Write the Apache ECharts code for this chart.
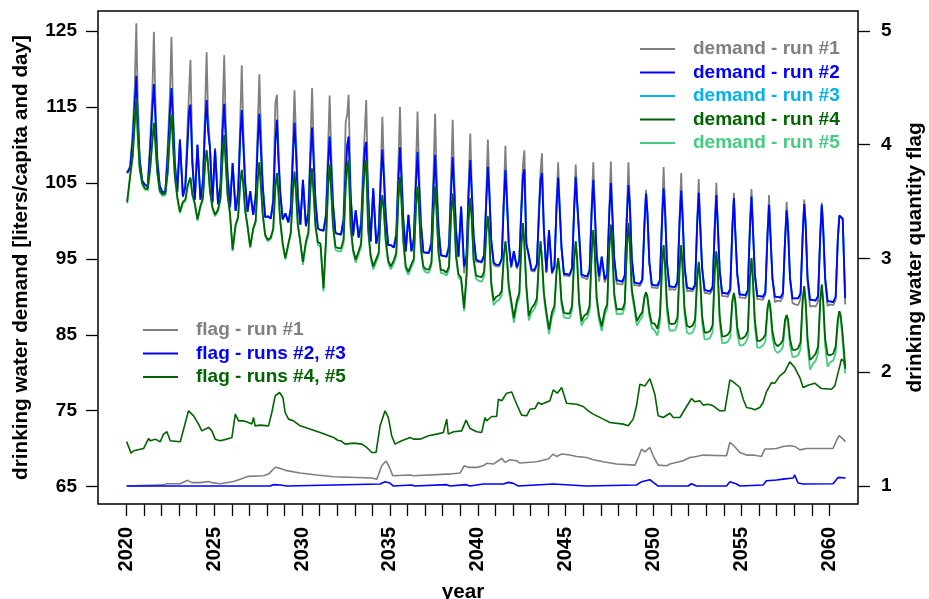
<!DOCTYPE html>
<html>
<head>
<meta charset="utf-8">
<script src="https://cdn.jsdelivr.net/npm/echarts@6.0.0/dist/echarts.min.js"></script>
<style>
  html, body { margin: 0; padding: 0; background: #ffffff; }
  #chart { width: 929px; height: 599px; }
</style>
</head>
<body>
<div id="chart"></div>
<script>
// Drinking water demand per run, one row per year (2020 ... 2060).
// Each row holds the values at the fractions of the year listed in samplePos.
const firstYear = 2020;
const samplePos = [0.05, 0.22, 0.36, 0.48, 0.57, 0.65, 0.76, 0.90];

const demandRun1 = [
  [106.4, 107.2, 111.5, 117.5, 126.0, 116.0, 108.5, 105.3],
  [104.8, 104.5, 110.5, 116.8, 124.9, 116.5, 108.5, 104.6],
  [103.8, 103.8, 110.0, 116.5, 124.2, 115.5, 108.0, 103.8],
  [110.5, 103.2, 105.0, 112.0, 117.0, 121.2, 108.0, 102.8],
  [110.0, 102.8, 105.5, 114.5, 122.2, 114.0, 109.8, 102.4],
  [109.6, 102.2, 105.0, 114.0, 121.8, 113.5, 106.5, 101.8],
  [107.5, 101.3, 104.0, 113.0, 120.5, 112.5, 105.5, 101.2],
  [103.8, 100.8, 103.5, 112.5, 119.3, 112.5, 105.0, 100.5],
  [100.6, 100.3, 103.0, 115.5, 116.6, 110.0, 104.0, 100.2],
  [101.0, 99.8, 102.0, 110.5, 117.2, 111.5, 103.5, 99.5],
  [105.2, 99.3, 101.5, 110.5, 117.5, 110.5, 103.0, 99.0],
  [98.8, 98.7, 101.0, 109.5, 116.5, 109.5, 102.5, 98.4],
  [98.3, 98.2, 100.5, 113.0, 114.0, 116.6, 104.0, 98.0],
  [101.3, 97.8, 100.0, 107.5, 112.0, 115.9, 103.5, 97.3],
  [104.0, 97.0, 99.0, 107.0, 113.7, 107.5, 101.0, 96.8],
  [96.8, 96.5, 98.5, 107.5, 115.0, 107.5, 100.5, 95.9],
  [100.6, 96.0, 98.0, 107.0, 114.4, 107.0, 100.0, 95.8],
  [95.8, 95.8, 97.5, 106.5, 114.1, 106.5, 99.5, 95.4],
  [95.4, 95.3, 97.0, 106.0, 113.3, 106.0, 99.0, 95.2],
  [101.5, 93.1, 95.5, 105.0, 111.5, 105.0, 98.0, 94.6],
  [94.6, 94.5, 95.5, 103.5, 110.7, 105.0, 97.5, 94.2],
  [94.0, 94.0, 95.0, 103.5, 109.9, 104.0, 97.0, 93.8],
  [95.8, 93.7, 94.6, 102.5, 107.5, 109.3, 97.0, 95.2],
  [93.4, 93.3, 94.1, 102.0, 106.5, 108.9, 98.5, 93.1],
  [98.5, 93.0, 93.8, 102.5, 107.7, 102.5, 96.5, 92.8],
  [92.8, 92.7, 93.6, 102.0, 107.4, 103.0, 98.0, 92.6],
  [92.5, 92.3, 93.2, 102.0, 107.7, 102.0, 95.5, 92.0],
  [95.0, 91.9, 92.7, 101.5, 107.8, 101.5, 95.0, 91.7],
  [91.7, 91.6, 92.5, 101.0, 107.7, 102.5, 95.0, 91.5],
  [91.5, 91.4, 92.0, 99.5, 104.1, 101.0, 94.5, 91.2],
  [91.2, 91.1, 91.9, 100.5, 107.1, 102.0, 94.5, 90.9],
  [91.0, 90.9, 91.7, 100.5, 106.3, 101.0, 94.0, 90.7],
  [90.8, 90.7, 91.3, 100.0, 105.5, 100.0, 93.8, 90.5],
  [90.5, 90.4, 91.0, 99.5, 105.0, 100.0, 93.5, 90.1],
  [90.1, 90.0, 90.7, 99.0, 103.7, 98.5, 93.0, 89.9],
  [89.9, 89.8, 90.5, 99.5, 104.2, 99.5, 93.0, 89.7],
  [89.7, 89.6, 90.3, 98.5, 103.4, 98.5, 92.5, 89.3],
  [89.5, 89.4, 90.0, 97.5, 102.5, 99.5, 92.5, 89.2],
  [89.0, 88.9, 89.7, 98.0, 102.8, 100.0, 92.0, 88.7],
  [88.8, 88.7, 89.4, 98.0, 102.4, 99.0, 92.0, 88.8],
  [89.0, 88.9, 89.6, 97.5, 100.6, 100.4, 100.2, 89.0]
];

const demandRun2 = [
  [106.3, 107.0, 110.5, 115.5, 119.1, 113.5, 108.0, 105.3],
  [104.8, 104.5, 109.5, 114.8, 118.0, 114.0, 108.0, 104.6],
  [103.8, 103.8, 108.5, 114.3, 117.5, 113.5, 107.5, 103.8],
  [110.7, 103.2, 104.5, 110.0, 114.5, 115.3, 107.5, 102.8],
  [110.0, 102.8, 105.0, 112.5, 115.9, 112.0, 109.6, 102.4],
  [109.4, 102.2, 104.5, 112.0, 115.4, 111.5, 106.0, 101.8],
  [107.6, 101.3, 103.5, 111.0, 114.6, 110.5, 105.0, 101.2],
  [103.9, 100.8, 103.0, 110.5, 114.1, 110.0, 104.5, 100.5],
  [100.6, 100.3, 102.5, 110.5, 113.3, 108.5, 103.5, 100.2],
  [101.0, 99.8, 101.5, 108.5, 112.9, 109.5, 103.0, 99.5],
  [105.4, 99.3, 101.0, 108.5, 112.3, 108.5, 102.5, 99.0],
  [98.8, 98.7, 100.5, 107.5, 111.1, 107.5, 102.0, 98.4],
  [98.3, 98.2, 100.0, 106.5, 110.0, 111.1, 103.5, 98.0],
  [101.4, 97.8, 99.5, 105.5, 109.5, 110.4, 103.0, 97.3],
  [104.3, 97.0, 98.5, 105.5, 109.4, 106.0, 100.5, 96.8],
  [96.8, 96.5, 98.0, 105.5, 109.7, 106.0, 100.0, 96.0],
  [100.8, 96.0, 97.5, 105.0, 109.1, 105.0, 99.5, 95.9],
  [95.8, 95.8, 97.0, 104.5, 108.7, 104.5, 99.0, 95.5],
  [95.4, 95.3, 96.5, 104.0, 108.4, 104.5, 98.5, 95.3],
  [101.9, 94.0, 95.5, 104.0, 108.0, 104.0, 98.0, 94.9],
  [94.7, 94.6, 95.5, 102.5, 107.1, 104.0, 97.5, 94.5],
  [94.2, 94.2, 95.0, 102.5, 106.7, 103.0, 97.0, 94.0],
  [96.0, 93.9, 94.8, 101.5, 106.0, 106.8, 97.0, 95.5],
  [93.6, 93.5, 94.3, 101.0, 105.5, 106.3, 98.8, 93.3],
  [98.8, 93.2, 94.0, 102.0, 105.7, 102.0, 96.5, 93.0],
  [93.0, 92.9, 93.8, 101.5, 105.8, 102.5, 98.4, 92.9],
  [92.8, 92.7, 93.5, 101.5, 105.4, 101.5, 95.5, 92.7],
  [95.3, 92.3, 93.0, 101.0, 105.0, 101.0, 95.0, 92.2],
  [92.1, 92.0, 92.8, 100.5, 104.7, 102.0, 95.0, 91.9],
  [91.8, 91.7, 92.3, 99.5, 103.6, 101.0, 94.5, 91.6],
  [91.5, 91.5, 92.2, 100.0, 104.3, 101.5, 94.5, 91.4],
  [91.3, 91.3, 92.0, 100.0, 104.0, 100.5, 94.0, 91.2],
  [91.1, 91.0, 91.6, 99.5, 103.7, 99.5, 93.8, 90.9],
  [90.8, 90.7, 91.3, 99.0, 103.4, 99.5, 93.5, 90.5],
  [90.5, 90.4, 91.0, 99.0, 103.0, 98.5, 93.0, 90.3],
  [90.3, 90.2, 90.8, 99.0, 103.2, 99.0, 93.0, 90.1],
  [90.1, 90.0, 90.6, 98.0, 102.1, 98.0, 92.5, 90.0],
  [90.0, 89.9, 90.5, 97.5, 101.4, 99.0, 92.5, 89.8],
  [89.8, 89.8, 90.4, 98.0, 102.2, 99.5, 92.5, 89.6],
  [89.6, 89.5, 90.1, 98.0, 102.1, 99.0, 92.5, 89.4],
  [89.4, 89.3, 90.0, 97.5, 100.7, 100.5, 100.3, 89.8]
];

// run #3 runs on top of run #2 everywhere
const demandRun3 = [
  [106.3, 107.0, 110.5, 115.5, 119.1, 113.5, 108.0, 105.3],
  [104.8, 104.5, 109.5, 114.8, 118.0, 114.0, 108.0, 104.6],
  [103.8, 103.8, 108.5, 114.3, 117.5, 113.5, 107.5, 103.8],
  [110.7, 103.2, 104.5, 110.0, 114.5, 115.3, 107.5, 102.8],
  [110.0, 102.8, 105.0, 112.5, 115.9, 112.0, 109.6, 102.4],
  [109.4, 102.2, 104.5, 112.0, 115.4, 111.5, 106.0, 101.8],
  [107.6, 101.3, 103.5, 111.0, 114.6, 110.5, 105.0, 101.2],
  [103.9, 100.8, 103.0, 110.5, 114.1, 110.0, 104.5, 100.5],
  [100.6, 100.3, 102.5, 110.5, 113.3, 108.5, 103.5, 100.2],
  [101.0, 99.8, 101.5, 108.5, 112.9, 109.5, 103.0, 99.5],
  [105.4, 99.3, 101.0, 108.5, 112.3, 108.5, 102.5, 99.0],
  [98.8, 98.7, 100.5, 107.5, 111.1, 107.5, 102.0, 98.4],
  [98.3, 98.2, 100.0, 106.5, 110.0, 111.1, 103.5, 98.0],
  [101.4, 97.8, 99.5, 105.5, 109.5, 110.4, 103.0, 97.3],
  [104.3, 97.0, 98.5, 105.5, 109.4, 106.0, 100.5, 96.8],
  [96.8, 96.5, 98.0, 105.5, 109.7, 106.0, 100.0, 96.0],
  [100.8, 96.0, 97.5, 105.0, 109.1, 105.0, 99.5, 95.9],
  [95.8, 95.8, 97.0, 104.5, 108.7, 104.5, 99.0, 95.5],
  [95.4, 95.3, 96.5, 104.0, 108.4, 104.5, 98.5, 95.3],
  [101.9, 94.0, 95.5, 104.0, 108.0, 104.0, 98.0, 94.9],
  [94.7, 94.6, 95.5, 102.5, 107.1, 104.0, 97.5, 94.5],
  [94.2, 94.2, 95.0, 102.5, 106.7, 103.0, 97.0, 94.0],
  [96.0, 93.9, 94.8, 101.5, 106.0, 106.8, 97.0, 95.5],
  [93.6, 93.5, 94.3, 101.0, 105.5, 106.3, 98.8, 93.3],
  [98.8, 93.2, 94.0, 102.0, 105.7, 102.0, 96.5, 93.0],
  [93.0, 92.9, 93.8, 101.5, 105.8, 102.5, 98.4, 92.9],
  [92.8, 92.7, 93.5, 101.5, 105.4, 101.5, 95.5, 92.7],
  [95.3, 92.3, 93.0, 101.0, 105.0, 101.0, 95.0, 92.2],
  [92.1, 92.0, 92.8, 100.5, 104.7, 102.0, 95.0, 91.9],
  [91.8, 91.7, 92.3, 99.5, 103.6, 101.0, 94.5, 91.6],
  [91.5, 91.5, 92.2, 100.0, 104.3, 101.5, 94.5, 91.4],
  [91.3, 91.3, 92.0, 100.0, 104.0, 100.5, 94.0, 91.2],
  [91.1, 91.0, 91.6, 99.5, 103.7, 99.5, 93.8, 90.9],
  [90.8, 90.7, 91.3, 99.0, 103.4, 99.5, 93.5, 90.5],
  [90.5, 90.4, 91.0, 99.0, 103.0, 98.5, 93.0, 90.3],
  [90.3, 90.2, 90.8, 99.0, 103.2, 99.0, 93.0, 90.1],
  [90.1, 90.0, 90.6, 98.0, 102.1, 98.0, 92.5, 90.0],
  [90.0, 89.9, 90.5, 97.5, 101.4, 99.0, 92.5, 89.8],
  [89.8, 89.8, 90.4, 98.0, 102.2, 99.5, 92.5, 89.6],
  [89.6, 89.5, 90.1, 98.0, 102.1, 99.0, 92.5, 89.4],
  [89.4, 89.3, 90.0, 97.5, 100.7, 100.5, 100.3, 89.8]
];

const demandRun4 = [
  [102.5, 106.0, 108.5, 113.0, 116.1, 111.5, 107.0, 105.0],
  [104.3, 104.2, 107.0, 110.5, 112.9, 110.5, 106.5, 104.0],
  [103.5, 103.6, 106.5, 111.5, 114.0, 110.5, 106.0, 103.2],
  [101.2, 102.5, 102.8, 104.5, 105.2, 105.7, 103.5, 102.3],
  [100.2, 102.0, 103.0, 107.5, 109.3, 107.5, 104.0, 101.8],
  [100.8, 101.5, 103.0, 108.5, 111.3, 108.0, 103.5, 101.0],
  [96.2, 99.5, 100.5, 105.0, 106.7, 105.0, 101.5, 99.3],
  [96.6, 99.0, 100.0, 105.5, 107.7, 105.0, 101.0, 98.2],
  [97.5, 97.8, 99.0, 104.5, 106.3, 104.0, 100.0, 97.0],
  [95.1, 97.0, 98.5, 104.0, 106.5, 104.0, 99.5, 97.3],
  [94.6, 97.3, 98.5, 104.5, 106.9, 104.0, 99.5, 97.2],
  [97.0, 91.1, 97.5, 104.5, 107.4, 104.5, 99.5, 96.6],
  [96.4, 96.4, 97.5, 104.5, 107.0, 108.0, 99.5, 96.3],
  [94.9, 96.0, 97.0, 104.0, 107.0, 108.0, 99.0, 95.5],
  [94.0, 95.0, 95.8, 101.5, 103.4, 101.5, 97.5, 94.8],
  [94.0, 94.8, 95.8, 103.0, 105.8, 103.0, 97.5, 94.0],
  [93.3, 94.3, 95.0, 102.0, 104.5, 102.0, 96.5, 94.0],
  [93.6, 93.6, 94.5, 101.5, 104.5, 101.5, 96.0, 93.5],
  [93.5, 93.2, 94.0, 101.0, 103.6, 101.0, 95.5, 93.0],
  [92.5, 88.5, 93.0, 100.5, 103.0, 100.5, 95.0, 92.8],
  [92.7, 92.6, 93.3, 98.5, 100.6, 98.5, 92.0, 89.5],
  [90.0, 90.2, 90.8, 95.5, 97.3, 95.5, 91.5, 89.5],
  [87.2, 89.5, 90.5, 97.0, 99.7, 97.0, 91.5, 87.5],
  [88.5, 89.0, 89.8, 95.0, 97.3, 95.0, 90.5, 88.0],
  [85.7, 88.0, 88.8, 93.5, 95.1, 93.5, 89.5, 87.9],
  [87.8, 87.8, 88.8, 95.0, 97.3, 95.0, 89.5, 86.8],
  [87.5, 87.8, 88.8, 96.0, 98.8, 96.0, 90.0, 87.5],
  [86.1, 88.2, 89.0, 96.5, 99.5, 96.5, 90.5, 88.3],
  [88.4, 88.3, 89.2, 96.5, 99.7, 97.0, 91.0, 89.0],
  [86.8, 87.5, 88.0, 90.0, 90.6, 90.0, 88.0, 86.5],
  [86.5, 85.8, 87.5, 94.0, 96.8, 94.5, 89.0, 86.5],
  [86.4, 86.5, 87.3, 94.0, 96.8, 94.0, 88.5, 86.2],
  [86.0, 86.2, 87.0, 92.5, 94.6, 92.5, 87.5, 85.3],
  [85.3, 85.5, 86.3, 93.5, 96.0, 93.5, 87.5, 84.8],
  [84.8, 85.0, 85.5, 89.5, 90.5, 89.5, 86.0, 84.5],
  [84.5, 84.8, 85.5, 92.5, 95.1, 92.5, 87.0, 84.2],
  [84.2, 84.5, 85.0, 88.5, 89.6, 88.5, 85.5, 83.9],
  [83.5, 83.8, 84.3, 87.0, 87.6, 87.0, 84.5, 83.0],
  [83.0, 83.2, 84.0, 89.5, 91.4, 89.5, 84.5, 81.7],
  [82.0, 82.5, 83.5, 89.5, 91.6, 89.5, 84.5, 82.4],
  [82.3, 82.5, 83.5, 87.0, 88.1, 87.5, 85.0, 80.8]
];

const demandRun5 = [
  [102.3, 105.8, 108.3, 112.9, 116.1, 111.4, 106.8, 104.8],
  [104.1, 104.0, 106.8, 110.4, 112.9, 110.4, 106.3, 103.8],
  [103.3, 103.4, 106.3, 111.4, 114.0, 110.4, 105.8, 103.0],
  [101.0, 102.3, 102.6, 104.4, 105.2, 105.6, 103.3, 102.1],
  [100.0, 101.8, 102.8, 107.4, 109.3, 107.4, 103.8, 101.6],
  [100.6, 101.3, 102.8, 108.4, 111.3, 107.9, 103.3, 100.8],
  [96.0, 99.3, 100.3, 104.9, 106.7, 104.9, 101.3, 99.1],
  [96.4, 98.8, 99.8, 105.4, 107.7, 104.9, 100.8, 98.0],
  [97.3, 97.6, 98.8, 104.4, 106.3, 103.9, 99.8, 96.8],
  [94.9, 96.8, 98.3, 103.9, 106.5, 103.9, 99.3, 97.1],
  [94.2, 96.9, 98.1, 104.3, 106.9, 103.8, 99.1, 96.8],
  [96.6, 90.7, 97.1, 104.3, 107.4, 104.3, 99.1, 96.2],
  [96.0, 96.0, 97.1, 104.3, 107.0, 108.0, 99.1, 95.9],
  [94.5, 95.6, 96.6, 103.8, 107.0, 108.0, 98.6, 95.1],
  [93.6, 94.6, 95.4, 101.3, 103.4, 101.3, 97.1, 94.4],
  [93.6, 94.4, 95.4, 102.8, 105.8, 102.8, 97.1, 93.6],
  [92.9, 93.9, 94.6, 101.8, 104.5, 101.8, 96.1, 93.6],
  [93.2, 93.2, 94.1, 101.3, 104.5, 101.3, 95.6, 93.1],
  [93.1, 92.8, 93.6, 100.8, 103.6, 100.8, 95.1, 92.6],
  [92.1, 88.1, 92.6, 100.3, 103.0, 100.3, 94.6, 92.4],
  [92.1, 92.0, 92.7, 98.2, 100.6, 98.2, 91.4, 88.9],
  [89.4, 89.6, 90.2, 95.2, 97.3, 95.2, 90.9, 88.9],
  [86.6, 88.9, 89.9, 96.7, 99.7, 96.7, 90.9, 86.9],
  [87.9, 88.4, 89.2, 94.7, 97.3, 94.7, 89.9, 87.4],
  [85.1, 87.4, 88.2, 93.2, 95.1, 93.2, 88.9, 87.3],
  [87.2, 87.2, 88.2, 94.7, 97.3, 94.7, 88.9, 86.2],
  [86.9, 87.2, 88.2, 95.7, 98.8, 95.7, 89.4, 86.9],
  [85.5, 87.6, 88.4, 96.2, 99.5, 96.2, 89.9, 87.7],
  [87.8, 87.7, 88.6, 96.2, 99.7, 96.7, 90.4, 88.4],
  [86.2, 86.9, 87.4, 89.7, 90.6, 89.7, 87.4, 85.9],
  [85.6, 84.9, 86.6, 93.5, 96.8, 94.0, 88.1, 85.6],
  [85.5, 85.6, 86.4, 93.5, 96.8, 93.5, 87.6, 85.3],
  [85.1, 85.3, 86.1, 92.0, 94.6, 92.0, 86.6, 84.4],
  [84.4, 84.6, 85.4, 93.0, 96.0, 93.0, 86.6, 83.9],
  [83.9, 84.1, 84.6, 89.0, 90.5, 89.0, 85.1, 83.6],
  [83.6, 83.9, 84.6, 92.0, 95.1, 92.0, 86.1, 83.3],
  [83.3, 83.6, 84.1, 88.0, 89.6, 88.0, 84.6, 83.0],
  [82.6, 82.9, 83.4, 86.5, 87.6, 86.5, 83.6, 82.1],
  [82.1, 82.3, 83.1, 89.0, 91.4, 89.0, 83.6, 80.4],
  [81.1, 81.6, 82.6, 89.0, 91.6, 89.0, 83.6, 80.8],
  [81.4, 81.6, 82.6, 86.5, 88.1, 87.0, 84.1, 79.9]
];

// Drinking water quantity flag, [year, flag] vertices
const flagRun1 = [
  [2020.02, 1.0], [2022.12, 1.01], [2022.31, 1.02], [2023.07, 1.02], [2023.49, 1.05], [2023.73, 1.03],
  [2024.2, 1.03], [2024.68, 1.04], [2024.87, 1.03], [2025.34, 1.02], [2026.1, 1.04], [2026.48, 1.06],
  [2026.95, 1.085], [2027.81, 1.09], [2028.09, 1.105], [2028.47, 1.165], [2028.76, 1.155], [2029.13, 1.135],
  [2029.89, 1.115], [2030.84, 1.097], [2031.79, 1.082], [2033.97, 1.07], [2034.25, 1.06], [2034.54, 1.18],
  [2034.78, 1.22], [2034.97, 1.165], [2035.16, 1.09], [2036.15, 1.097], [2036.24, 1.105], [2036.34, 1.09],
  [2038.23, 1.105], [2038.32, 1.114], [2038.42, 1.105], [2038.99, 1.114], [2039.22, 1.178], [2039.46, 1.164],
  [2039.94, 1.164], [2040.31, 1.178], [2040.5, 1.2], [2040.88, 1.193], [2041.17, 1.222], [2041.36, 1.243],
  [2041.55, 1.208], [2041.83, 1.231], [2042.21, 1.222], [2042.4, 1.202], [2043.35, 1.213], [2044.01, 1.237],
  [2044.29, 1.281], [2044.48, 1.26], [2044.77, 1.281], [2045.24, 1.272], [2045.62, 1.26], [2046.19, 1.251],
  [2046.57, 1.231], [2047.14, 1.213], [2047.89, 1.193], [2048.94, 1.184], [2049.13, 1.251], [2049.32, 1.325],
  [2049.51, 1.301], [2049.79, 1.339], [2049.98, 1.266], [2050.26, 1.184], [2050.74, 1.178], [2050.93, 1.193],
  [2051.68, 1.222], [2052.06, 1.251], [2052.44, 1.26], [2052.82, 1.272], [2054.15, 1.266], [2054.34, 1.383],
  [2054.53, 1.36], [2054.91, 1.295], [2055.29, 1.272], [2055.66, 1.272], [2056.14, 1.26], [2056.33, 1.325],
  [2056.61, 1.325], [2056.99, 1.33], [2057.37, 1.348], [2057.75, 1.354], [2058.03, 1.348], [2058.32, 1.318],
  [2058.7, 1.33], [2060.21, 1.33], [2060.4, 1.398], [2060.55, 1.442], [2060.78, 1.412], [2060.92, 1.39]
];

const flagRuns23 = [
  [2020.02, 1.0], [2028.18, 1.0], [2028.37, 1.012], [2028.76, 1.009], [2029.13, 1.0], [2034.44, 1.018],
  [2034.72, 1.038], [2035.0, 1.026], [2035.2, 1.0], [2036.24, 1.009], [2036.4, 1.0], [2038.23, 1.012],
  [2038.42, 1.0], [2039.33, 1.012], [2039.56, 1.0], [2040.31, 1.018], [2041.45, 1.018], [2041.74, 1.032],
  [2042.02, 1.023], [2042.3, 1.0], [2044.29, 1.018], [2045.24, 1.009], [2046.19, 1.0], [2049.03, 1.009],
  [2049.32, 1.038], [2049.79, 1.056], [2049.98, 1.032], [2050.26, 1.0], [2051.97, 1.0], [2052.16, 1.02],
  [2052.44, 1.0], [2054.15, 1.0], [2054.34, 1.038], [2054.72, 1.018], [2054.91, 1.0], [2056.23, 1.009],
  [2056.42, 1.047], [2056.99, 1.053], [2057.37, 1.061], [2057.94, 1.07], [2058.03, 1.097], [2058.22, 1.026],
  [2058.51, 1.018], [2060.21, 1.02], [2060.5, 1.076], [2060.92, 1.07]
];

const flagRuns45 = [
  [2020.02, 1.39], [2020.08, 1.374], [2020.27, 1.289], [2020.42, 1.31], [2020.99, 1.33], [2021.27, 1.418],
  [2021.36, 1.398], [2021.65, 1.412], [2021.93, 1.389], [2022.12, 1.456], [2022.31, 1.477], [2022.5, 1.398],
  [2023.07, 1.389], [2023.54, 1.661], [2023.83, 1.617], [2024.11, 1.544], [2024.3, 1.485], [2024.68, 1.515],
  [2024.87, 1.485], [2025.06, 1.412], [2025.34, 1.398], [2025.72, 1.412], [2026.01, 1.427], [2026.2, 1.632],
  [2026.39, 1.573], [2026.67, 1.573], [2026.95, 1.559], [2027.14, 1.544], [2027.24, 1.602], [2027.33, 1.529],
  [2027.62, 1.535], [2028.09, 1.529], [2028.28, 1.646], [2028.47, 1.792], [2028.72, 1.822], [2028.91, 1.778],
  [2029.04, 1.646], [2029.23, 1.588], [2029.51, 1.573], [2029.89, 1.529], [2030.27, 1.509], [2031.03, 1.471],
  [2031.79, 1.427], [2032.05, 1.40], [2032.13, 1.415], [2032.2, 1.398], [2032.45, 1.368], [2032.92, 1.377],
  [2033.4, 1.368], [2033.68, 1.339], [2033.97, 1.295], [2034.21, 1.295], [2034.44, 1.529], [2034.72, 1.661],
  [2034.91, 1.602], [2035.1, 1.442], [2035.29, 1.368], [2035.67, 1.398], [2036.15, 1.427], [2036.34, 1.412],
  [2036.71, 1.412], [2037.19, 1.442], [2037.66, 1.456], [2038.04, 1.471], [2038.23, 1.588], [2038.32, 1.456],
  [2038.61, 1.477], [2039.08, 1.485], [2039.33, 1.579], [2039.56, 1.505], [2039.94, 1.477], [2040.22, 1.471],
  [2040.41, 1.602], [2040.5, 1.573], [2040.79, 1.611], [2041.07, 1.611], [2041.17, 1.763], [2041.36, 1.749],
  [2041.45, 1.734], [2041.64, 1.816], [2041.93, 1.827], [2042.21, 1.719], [2042.49, 1.623], [2042.78, 1.617],
  [2042.97, 1.675], [2043.25, 1.681], [2043.44, 1.734], [2043.63, 1.719], [2044.1, 1.749], [2044.29, 1.845],
  [2044.52, 1.816], [2044.77, 1.866], [2045.05, 1.728], [2045.62, 1.719], [2046.0, 1.699], [2046.28, 1.661],
  [2046.57, 1.632], [2047.14, 1.588], [2047.52, 1.559], [2048.27, 1.544], [2048.56, 1.529], [2048.84, 1.588],
  [2049.03, 1.705], [2049.22, 1.895], [2049.51, 1.88], [2049.79, 1.944], [2050.07, 1.807], [2050.26, 1.617],
  [2050.55, 1.602], [2050.93, 1.64], [2051.12, 1.602], [2051.5, 1.602], [2051.78, 1.675], [2052.16, 1.769],
  [2052.35, 1.74], [2052.63, 1.749], [2052.82, 1.711], [2053.11, 1.719], [2053.39, 1.705], [2053.77, 1.661],
  [2054.05, 1.661], [2054.34, 1.933], [2054.53, 1.915], [2054.91, 1.866], [2055.1, 1.763], [2055.29, 1.69],
  [2055.57, 1.681], [2055.76, 1.67], [2056.04, 1.69], [2056.23, 1.734], [2056.42, 1.827], [2056.71, 1.909],
  [2056.9, 1.904], [2057.18, 1.968], [2057.46, 2.003], [2057.75, 2.091], [2058.03, 2.041], [2058.32, 1.953],
  [2058.51, 1.866], [2058.79, 1.886], [2059.17, 1.904], [2059.55, 1.857], [2060.12, 1.851], [2060.31, 1.88],
  [2060.5, 1.997], [2060.69, 2.114], [2060.82, 2.1], [2060.92, 2.03]
];

// Axis ticks and labels
const yearLabels = [2020, 2025, 2030, 2035, 2040, 2045, 2050, 2055, 2060];
const yearTicks = [];
for (let y = 2020; y <= 2060; y++) yearTicks.push(y);
const demandTicks = [65, 75, 85, 95, 105, 115, 125];
const flagTicks = [1, 2, 3, 4, 5];

const FONT = '"Liberation Sans", Arial, Helvetica, sans-serif';
const COLORS = {
  run1: '#7f7f7f',
  run2: '#0000ff',
  run3: '#00b2ee',
  run4: '#006400',
  run5: '#43cd80'
};

// Turn year rows into [time, value] points
function yearRowsToPoints(rows) {
  const pts = [];
  rows.forEach((row, i) => {
    row.forEach((v, j) => pts.push([firstYear + i + samplePos[j], v]));
  });
  return pts;
}

function lineSeries(name, data, color, yAxisIndex, width) {
  return {
    name: name,
    type: 'line',
    data: data,
    yAxisIndex: yAxisIndex,
    showSymbol: false,
    symbol: 'none',
    silent: true,
    lineStyle: { color: color, width: width },
    itemStyle: { color: color }
  };
}

const labelStyle = { fontFamily: FONT, fontWeight: 'bold', fontSize: 19, color: '#000' };
const titleStyle = { fontFamily: FONT, fontWeight: 'bold', fontSize: 20.7, color: '#000' };
const tickStyle = { color: '#000', width: 1.3 };
const legendText = { fontFamily: FONT, fontWeight: 'bold', fontSize: 19, lineHeight: 20, padding: [0, 0, 0, 13] };

const chart = echarts.init(document.getElementById('chart'), null, { renderer: 'canvas' });

chart.setOption({
  animation: false,
  backgroundColor: '#ffffff',
  grid: {
    left: 98, right: 71, top: 11, bottom: 95,
    outerBoundsMode: 'none',
    containLabel: false,
    show: true, borderColor: '#000', borderWidth: 1.5, backgroundColor: 'transparent'
  },
  xAxis: {
    type: 'value',
    min: 2018.39,
    max: 2061.63,
    name: 'year',
    nameLocation: 'middle',
    nameGap: 78,
    nameTextStyle: Object.assign({ padding: [0, 30, 0, 0] }, titleStyle),
    axisLine: { show: false, onZero: false },
    splitLine: { show: false },
    axisTick: { show: true, customValues: yearTicks, length: 12, lineStyle: tickStyle },
    axisLabel: Object.assign({}, labelStyle, {
      customValues: yearLabels, rotate: 90, margin: 23, fontSize: 20,
      formatter: (v) => String(v)
    })
  },
  yAxis: [
    {
      type: 'value',
      min: 62.72,
      max: 127.63,
      name: 'drinking water demand [liters/capita and day]',
      nameLocation: 'middle',
      nameRotate: 90,
      nameGap: 66,
      nameTextStyle: titleStyle,
      axisLine: { show: false, onZero: false },
      splitLine: { show: false },
      axisTick: { show: true, customValues: demandTicks, length: 12, lineStyle: tickStyle },
      axisLabel: Object.assign({
        customValues: demandTicks, margin: 21,
        formatter: (v) => String(v)
      }, labelStyle)
    },
    {
      type: 'value',
      position: 'right',
      min: 0.842,
      max: 5.175,
      name: 'drinking water quantity flag',
      nameLocation: 'middle',
      nameRotate: 90,
      nameGap: 47,
      nameTextStyle: titleStyle,
      axisLine: { show: false, onZero: false },
      splitLine: { show: false },
      axisTick: { show: true, customValues: flagTicks, length: 12, lineStyle: tickStyle },
      axisLabel: Object.assign({
        customValues: flagTicks, margin: 23,
        formatter: (v) => String(v)
      }, labelStyle)
    }
  ],
  legend: [
    {
      orient: 'vertical',
      left: 640,
      top: 39,
      padding: 0,
      itemWidth: 35,
      itemHeight: 2,
      itemGap: 3.5,
      icon: 'rect',
      selectedMode: false,
      textStyle: legendText,
      data: [
        { name: 'demand - run #1', textStyle: { color: COLORS.run1 } },
        { name: 'demand - run #2', textStyle: { color: COLORS.run2 } },
        { name: 'demand - run #3', textStyle: { color: COLORS.run3 } },
        { name: 'demand - run #4', textStyle: { color: COLORS.run4 } },
        { name: 'demand - run #5', textStyle: { color: COLORS.run5 } }
      ]
    },
    {
      orient: 'vertical',
      left: 143,
      top: 320,
      padding: 0,
      itemWidth: 35,
      itemHeight: 2,
      itemGap: 3.5,
      icon: 'rect',
      selectedMode: false,
      textStyle: legendText,
      data: [
        { name: 'flag - run #1', textStyle: { color: COLORS.run1 } },
        { name: 'flag - runs #2, #3', textStyle: { color: COLORS.run2 } },
        { name: 'flag - runs #4, #5', textStyle: { color: COLORS.run4 } }
      ]
    }
  ],
  series: [
    lineSeries('demand - run #1', yearRowsToPoints(demandRun1), COLORS.run1, 0, 1.8),
    lineSeries('demand - run #3', yearRowsToPoints(demandRun3), COLORS.run3, 0, 1.8),
    lineSeries('demand - run #2', yearRowsToPoints(demandRun2), COLORS.run2, 0, 1.8),
    lineSeries('demand - run #5', yearRowsToPoints(demandRun5), COLORS.run5, 0, 1.8),
    lineSeries('demand - run #4', yearRowsToPoints(demandRun4), COLORS.run4, 0, 1.8),
    lineSeries('flag - run #1', flagRun1, COLORS.run1, 1, 1.6),
    lineSeries('flag - runs #2, #3', flagRuns23, COLORS.run2, 1, 1.6),
    lineSeries('flag - runs #4, #5', flagRuns45, COLORS.run4, 1, 1.6)
  ]
});
</script>
</body>
</html>
